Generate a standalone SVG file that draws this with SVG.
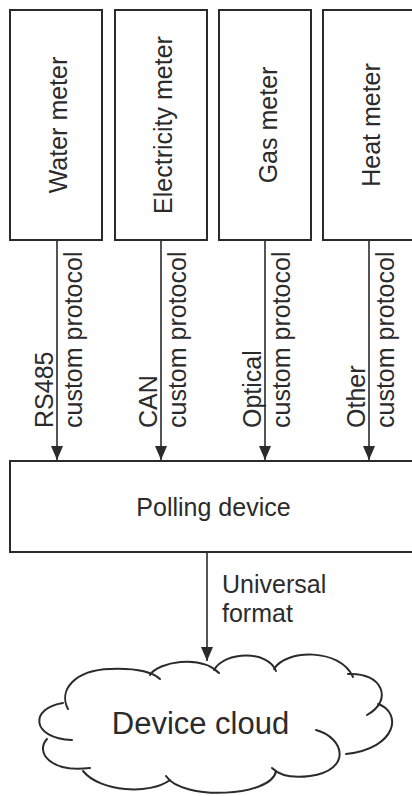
<svg xmlns="http://www.w3.org/2000/svg" width="412" height="796" viewBox="0 0 412 796">
<defs>
<style>
.box{fill:#fff;stroke:#2b2b2b;stroke-width:2}
.t{font-family:"Liberation Sans",Arial,sans-serif;fill:#2b2b2b;font-size:25px}
.conn{stroke:#2b2b2b;stroke-width:1.6;fill:none}
.cl{fill:none;stroke:#2b2b2b;stroke-width:2;stroke-linecap:round}
</style>
<marker id="ah" markerUnits="userSpaceOnUse" markerWidth="12" markerHeight="14" refX="6" refY="14" orient="auto-start-reverse" viewBox="0 0 12 14">
<path d="M0,0 L12,0 L6,14 Z" fill="#2b2b2b" transform="rotate(0)"/>
</marker>
<marker id="ahd" markerUnits="userSpaceOnUse" markerWidth="14" markerHeight="12" refX="14" refY="6" orient="auto" viewBox="0 0 14 12">
<path d="M0,0 L14,6 L0,12 Z" fill="#2b2b2b"/>
</marker>
</defs>
<rect width="412" height="796" fill="#fff"/>
<g id="water-meter">
<rect class="box" x="10" y="10" width="92" height="230"/>
<text class="t" text-anchor="middle" transform="translate(67,125) rotate(-90)">Water meter</text>
</g>
<g id="electricity-meter">
<rect class="box" x="115" y="10" width="92" height="230"/>
<text class="t" text-anchor="middle" transform="translate(172,125) rotate(-90)">Electricity meter</text>
</g>
<g id="gas-meter">
<rect class="box" x="219" y="10" width="92" height="230"/>
<text class="t" text-anchor="middle" transform="translate(277,125) rotate(-90)">Gas meter</text>
</g>
<g id="heat-meter">
<rect class="box" x="323" y="10" width="100" height="230"/>
<text class="t" text-anchor="middle" transform="translate(380,125) rotate(-90)">Heat meter</text>
</g>
<g id="polling-device">
<rect class="box" x="10" y="461" width="420" height="91"/>
<text class="t" x="213.5" y="516" text-anchor="middle">Polling device</text>
</g>
<g id="device-cloud">
<path d="M207,661 C240,648 270,650 276,670 C290,650 340,648 352,675 C385,675 395,700 382,707 C400,715 398,748 347,753 C350,770 320,778 272,771 C270,796 185,800 167,777 C150,795 100,792 83,771 C45,775 35,752 47,739 C28,735 30,705 65,704 C60,685 80,668 110,669 C130,668 145,670 152,674 C165,660 195,657 207,661 Z" fill="#fff" stroke="none"/>
<path class="cl" d="M150,675 C158,662 200,654 219,673"/>
<path class="cl" d="M214,670 C225,651 268,650 276,671"/>
<path class="cl" d="M274,669 C286,649 340,648 353,677"/>
<path class="cl" d="M348,674 C382,672 394,700 367,715"/>
<path class="cl" d="M378,704 C402,712 398,748 346,754"/>
<path class="cl" d="M316,730 C345,738 352,770 310,776 C295,778 280,776 272,768"/>
<path class="cl" d="M276,771 C272,797 182,801 166,776"/>
<path class="cl" d="M170,780 C150,795 100,792 83,771"/>
<path class="cl" d="M90,768 C50,773 35,752 47,739"/>
<path class="cl" d="M63,703 C30,708 30,738 72,740"/>
<path class="cl" d="M68,709 C58,690 75,670 110,669 C135,668 152,672 160,679"/>
<text x="200.5" y="734" text-anchor="middle" style="font-family:'Liberation Sans',Arial,sans-serif;font-size:31px;fill:#2b2b2b">Device cloud</text>
</g>
<g id="connectors">
<line class="conn" x1="57" y1="241" x2="57" y2="460" marker-end="url(#ahd)"/>
<line class="conn" x1="161" y1="241" x2="161" y2="460" marker-end="url(#ahd)"/>
<line class="conn" x1="265" y1="241" x2="265" y2="460" marker-end="url(#ahd)"/>
<line class="conn" x1="369" y1="241" x2="369" y2="460" marker-end="url(#ahd)"/>
<line class="conn" x1="207" y1="553" x2="207" y2="661" marker-end="url(#ahd)"/>
<text class="t" transform="translate(53,428) rotate(-90)">RS485</text>
<text class="t" transform="translate(82,428) rotate(-90)">custom protocol</text>
<text class="t" transform="translate(157,428) rotate(-90)">CAN</text>
<text class="t" transform="translate(186,428) rotate(-90)">custom protocol</text>
<text class="t" transform="translate(261,428) rotate(-90)">Optical</text>
<text class="t" transform="translate(290,428) rotate(-90)">custom protocol</text>
<text class="t" transform="translate(365,428) rotate(-90)">Other</text>
<text class="t" transform="translate(394,428) rotate(-90)">custom protocol</text>
<text class="t" x="222" y="593">Universal</text>
<text class="t" x="222" y="622">format</text>
</g>
</svg>
